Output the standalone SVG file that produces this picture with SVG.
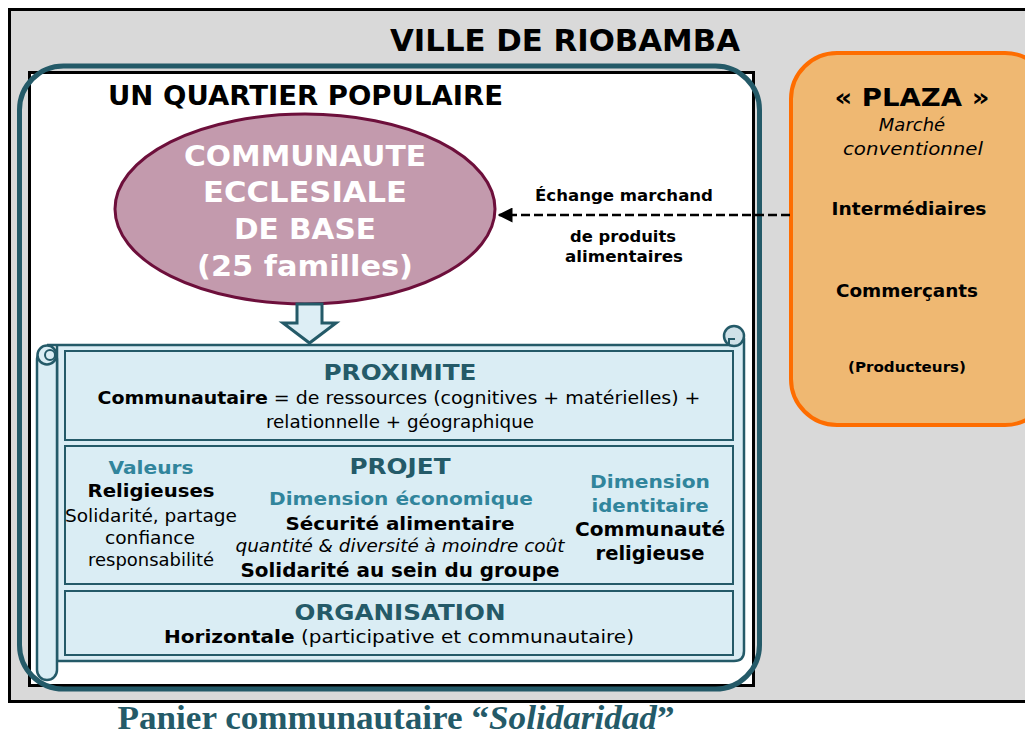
<svg xmlns="http://www.w3.org/2000/svg" width="1025" height="738" viewBox="0 0 1025 738">
<defs>
<style>
.v{font-family:"DejaVu Sans","Verdana",sans-serif}
.b{font-weight:bold}
.i{font-style:italic}
.c{text-anchor:middle}
.teal{fill:#245a68}
.lt{fill:#31859c}
.box{fill:#daedf4;stroke:#245a68;stroke-width:2}
</style>
<marker id="ah" viewBox="0 0 10 10" refX="9" refY="5" markerWidth="6" markerHeight="6" orient="auto-start-reverse">
<path d="M0,0 L10,5 L0,10 z" fill="#000"/>
</marker>
</defs>
<rect width="1025" height="738" fill="#fff"/>
<g id="ville">
<rect x="9.5" y="9.5" width="1030" height="692" fill="#d9d9d9" stroke="#000" stroke-width="3"/>
<text class="v b c" x="565" y="51" font-size="30" textLength="350" lengthAdjust="spacingAndGlyphs">VILLE DE RIOBAMBA</text>
</g>
<g id="quartier">
<rect x="29.5" y="72.5" width="724" height="613" fill="#fff" stroke="#000" stroke-width="3"/>
<rect x="19.5" y="66" width="740" height="623" rx="44" fill="none" stroke="#245a68" stroke-width="5"/>
<text class="v b c" x="305.5" y="105" font-size="26" textLength="395" lengthAdjust="spacingAndGlyphs">UN QUARTIER POPULAIRE</text>
</g>
<g id="ceb">
<ellipse cx="305" cy="209" rx="190" ry="95" fill="#c39aad" stroke="#6d0f3b" stroke-width="3"/>
<g class="v b c" font-size="29" fill="#fff">
<text x="305" y="166" textLength="242" lengthAdjust="spacingAndGlyphs">COMMUNAUTE</text>
<text x="305" y="202" textLength="204" lengthAdjust="spacingAndGlyphs">ECCLESIALE</text>
<text x="305" y="239" textLength="142" lengthAdjust="spacingAndGlyphs">DE BASE</text>
<text x="305" y="276" textLength="216" lengthAdjust="spacingAndGlyphs">(25 familles)</text>
</g>
</g>
<g id="plaza">
<rect x="791" y="53" width="260" height="372" rx="46" fill="#efb872" stroke="#fe6d00" stroke-width="4"/>
<text class="v b c" x="912" y="106" font-size="25" textLength="155" lengthAdjust="spacingAndGlyphs">« PLAZA »</text>
<text class="v i c" x="912" y="131" font-size="18">Marché</text>
<text class="v i c" x="913" y="155" font-size="18" textLength="140" lengthAdjust="spacingAndGlyphs">conventionnel</text>
<text class="v b c" x="909" y="215" font-size="17" textLength="155" lengthAdjust="spacingAndGlyphs">Intermédiaires</text>
<text class="v b c" x="907" y="297" font-size="17" textLength="142" lengthAdjust="spacingAndGlyphs">Commerçants</text>
<text class="v b c" x="907" y="372" font-size="14" textLength="118" lengthAdjust="spacingAndGlyphs">(Producteurs)</text>
</g>
<g id="connectors">
<line x1="790" y1="215" x2="499" y2="215" stroke="#000" stroke-width="2.5" stroke-dasharray="9,4" marker-end="url(#ah)"/>
<text class="v b c" x="624" y="201" font-size="15" textLength="178" lengthAdjust="spacingAndGlyphs">Échange marchand</text>
<text class="v b c" x="623" y="242" font-size="15" textLength="106" lengthAdjust="spacingAndGlyphs">de produits</text>
<text class="v b c" x="624" y="262" font-size="15" textLength="118" lengthAdjust="spacingAndGlyphs">alimentaires</text>
<path d="M297,304 H322 V323 H336 L309.5,343 L283,323 H297 Z" fill="#ddeef5" stroke="#245a68" stroke-width="3" stroke-linejoin="miter"/>
</g>
<g id="scroll">
<path d="M47,345 H734 L744,340 V651 Q744,661 734,661 H57 V345 Z" fill="#daedf4" stroke="#245a68" stroke-width="2.5"/>
<rect x="37" y="350" width="20" height="330" rx="10" fill="#daedf4" stroke="#245a68" stroke-width="2.5"/>
<circle cx="47" cy="355" r="9.5" fill="#daedf4" stroke="#245a68" stroke-width="2.5"/>
<circle cx="50" cy="355" r="5" fill="none" stroke="#245a68" stroke-width="2"/>
<circle cx="734" cy="336" r="10" fill="#cfe1e8" stroke="#245a68" stroke-width="2.5"/>
<path d="M729,345 V339 H735" fill="none" stroke="#245a68" stroke-width="2"/>
</g>
<g id="proximite">
<rect class="box" x="65" y="351" width="668" height="89"/>
<text class="v b c teal" x="400" y="380" font-size="21" textLength="153" lengthAdjust="spacingAndGlyphs">PROXIMITE</text>
<text class="v c" x="399" y="404" font-size="17" textLength="603" lengthAdjust="spacingAndGlyphs"><tspan class="b">Communautaire</tspan> = de ressources (cognitives + matérielles) +</text>
<text class="v c" x="400" y="428" font-size="17" textLength="268" lengthAdjust="spacingAndGlyphs">relationnelle + géographique</text>
</g>
<g id="projet">
<rect class="box" x="65" y="446" width="668" height="138"/>
<text class="v b c lt" x="151" y="474" font-size="17" textLength="85" lengthAdjust="spacingAndGlyphs">Valeurs</text>
<text class="v b c" x="151" y="497" font-size="18" textLength="127" lengthAdjust="spacingAndGlyphs">Religieuses</text>
<text class="v c" x="151" y="522" font-size="17" textLength="172" lengthAdjust="spacingAndGlyphs">Solidarité, partage</text>
<text class="v c" x="150" y="544" font-size="17" textLength="90" lengthAdjust="spacingAndGlyphs">confiance</text>
<text class="v c" x="151" y="566" font-size="17" textLength="126" lengthAdjust="spacingAndGlyphs">responsabilité</text>
<text class="v b c teal" x="400" y="474" font-size="21" textLength="101" lengthAdjust="spacingAndGlyphs">PROJET</text>
<text class="v b c lt" x="401" y="505" font-size="18" textLength="264" lengthAdjust="spacingAndGlyphs">Dimension économique</text>
<text class="v b c" x="400" y="530" font-size="18" textLength="229" lengthAdjust="spacingAndGlyphs">Sécurité alimentaire</text>
<text class="v i c" x="400" y="552" font-size="17" textLength="329" lengthAdjust="spacingAndGlyphs">quantité &amp; diversité à moindre coût</text>
<text class="v b c" x="400" y="577" font-size="19" textLength="319" lengthAdjust="spacingAndGlyphs">Solidarité au sein du groupe</text>
<text class="v b c lt" x="650" y="488" font-size="18" textLength="120" lengthAdjust="spacingAndGlyphs">Dimension</text>
<text class="v b c lt" x="650" y="512" font-size="18" textLength="117" lengthAdjust="spacingAndGlyphs">identitaire</text>
<text class="v b c" x="650" y="536" font-size="19" textLength="150" lengthAdjust="spacingAndGlyphs">Communauté</text>
<text class="v b c" x="650" y="560" font-size="19" textLength="109" lengthAdjust="spacingAndGlyphs">religieuse</text>
</g>
<g id="organisation">
<rect class="box" x="65" y="591" width="668" height="64"/>
<text class="v b c teal" x="400" y="620" font-size="21" textLength="211" lengthAdjust="spacingAndGlyphs">ORGANISATION</text>
<text class="v c" x="399" y="643" font-size="17" textLength="470" lengthAdjust="spacingAndGlyphs"><tspan class="b">Horizontale</tspan> (participative et communautaire)</text>
</g>
<g id="caption">
<text x="396" y="729" font-family="Liberation Serif, serif" font-weight="bold" font-size="34" fill="#245a68" text-anchor="middle" textLength="557" lengthAdjust="spacingAndGlyphs">Panier communautaire “<tspan font-style="italic">Solidaridad</tspan>”</text>
</g>
</svg>
